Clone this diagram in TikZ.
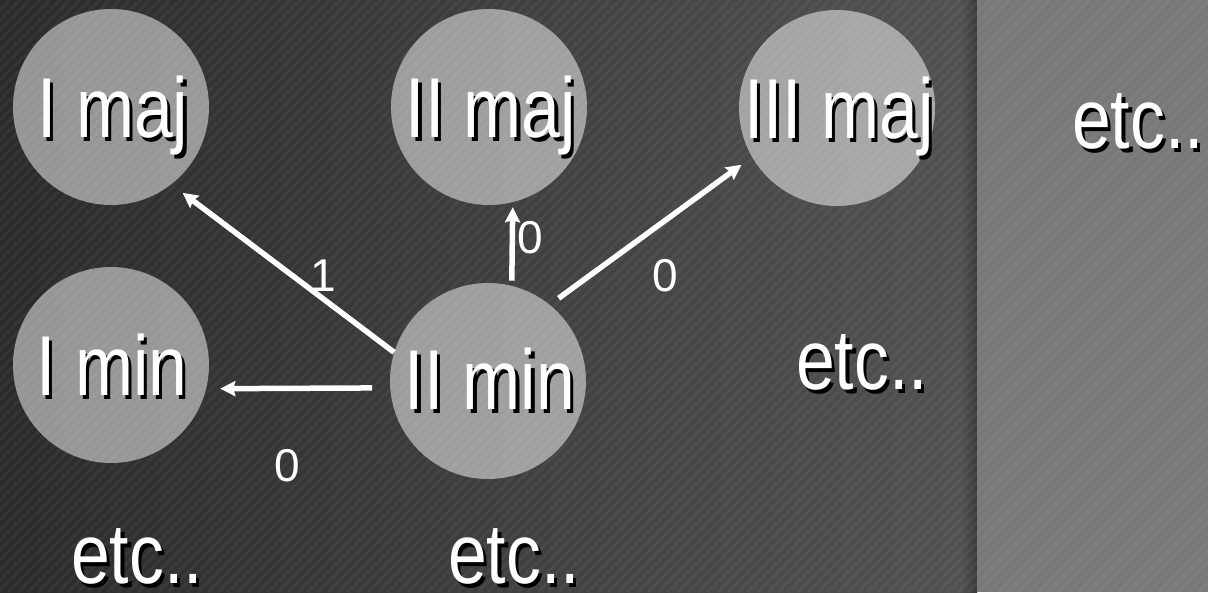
\documentclass[tikz,border=0pt]{standalone}
\usepackage{graphicx}
\usepackage{fontspec}
\setmainfont{Liberation Sans}
\usetikzlibrary{arrows.meta,calc}
\definecolor{bgL}{HTML}{2A2A2A}
\definecolor{bgR}{HTML}{525252}
\definecolor{panelgray}{HTML}{787878}
\newcommand\shd[1]{\scalebox{0.82}[1]{\rlap{\hspace{4pt}\raisebox{-4.5pt}{\color{black}#1}}#1}}
\begin{document}
\begin{tikzpicture}[x=1pt,y=-1pt,
  circ/.style={circle, fill=white, fill opacity=0.5, minimum size=196pt, inner sep=0pt},
  big/.style={text=white, font=\fontsize{85}{90}\selectfont, inner sep=0pt, anchor=base},
  num/.style={text=white, font=\fontsize{46}{50}\selectfont, inner sep=0pt},
  arr/.style={draw=white, line width=5.5pt, -{Stealth[length=15pt,width=15pt,inset=2pt]}}]
\useasboundingbox (0,0) rectangle (1208,592);
% background
\shade[left color=bgL, right color=bgR] (0,0) rectangle (977,592);
\shade[left color=bgR, right color=bgR!72!black] (960,0) rectangle (977,592);
\fill[panelgray] (977,0) rectangle (1208,592);
\begin{scope}
  \clip (0,0) rectangle (1208,592);
  \foreach \i in {0,10,...,1810} \draw[white, opacity=0.045, line width=3.5pt] (\i-592,592) -- (\i,0);
\end{scope}
% circles
\node[circ] (imaj) at (111,107) {};
\node[circ] (iimaj) at (489,107) {};
\node[circ] (iiimaj) at (837,108) {};
\node[circ] (imin) at (111,365) {};
\node[circ] (iimin) at (488,381) {};
% arrows
\draw[arr, shorten >=14pt] (iimin.163) -- (imaj.-52);
\draw[arr, shorten <=18pt, shorten >=14pt] (iimin.184) -- (imin.-14);
\draw[arr, shorten <=5pt, shorten >=5pt] (iimin.76) -- (iimaj.-76);
\draw[arr, shorten <=11pt, shorten >=13pt] (iimin.51) -- (iiimaj.-150);
% labels
\node[num] (l1) at (323,276) {1};
\node[num] (l2) at (530,238) {0};
\node[num] (l3) at (665,276) {0};
\node[num] (l4) at (287,466) {0};
% texts
\node[big] (imajT) at (113,137) {\shd{I maj}};
\node[big] (iimajT) at (491,137) {\shd{II maj}};
\node[big] (iiimajT) at (839,138) {\shd{III maj}};
\node[big] (iminT) at (112,395) {\shd{I min}};
\node[big] (iiminT) at (490,409) {\shd{II min}};
\node[big] (etc1) at (862,389) {\shd{etc..}};
\node[big] (etc2) at (137,583) {\shd{etc..}};
\node[big] (etc3) at (514,583) {\shd{etc..}};
\node[big] (etc4) at (1138,148) {\shd{etc..}};
\end{tikzpicture}
\end{document}
